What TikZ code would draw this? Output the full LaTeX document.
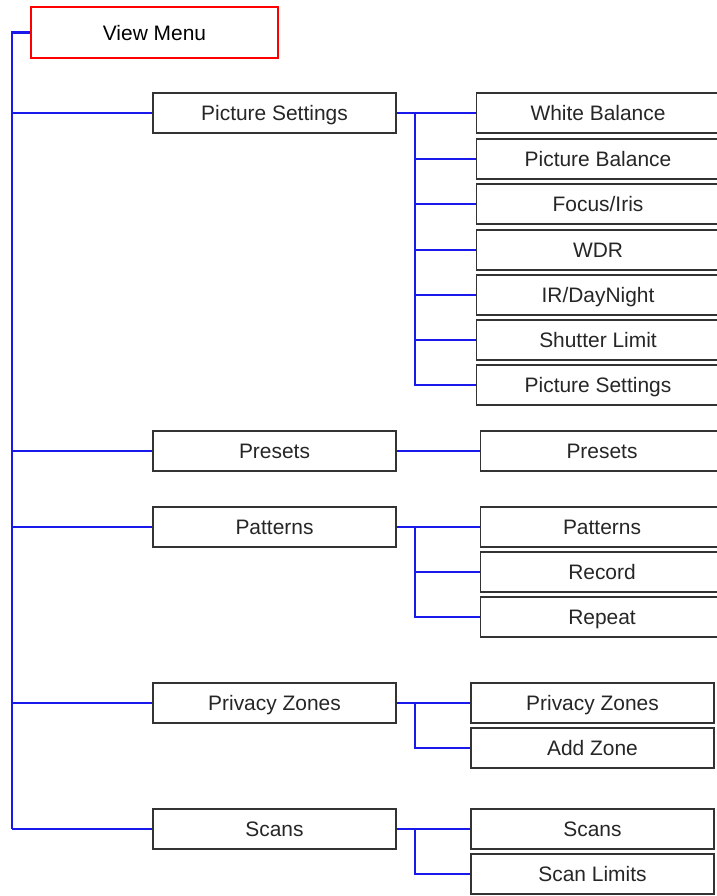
\documentclass[tikz,border=0pt]{standalone}
\usepackage{fontspec}
\setmainfont{Liberation Sans}
\definecolor{linkblue}{RGB}{25,25,235}
\tikzset{
  menubox/.style={draw=red,line width=1.1pt,fill=white,minimum width=185.25pt,
    minimum height=38.25pt,inner sep=0pt,text height=11.3pt,text depth=0pt,
    font=\fontsize{15.7}{18}\selectfont},
  itembox/.style={draw=black!80,line width=1.1pt,fill=white,minimum width=182.25pt,
    minimum height=30pt,inner sep=0pt,text height=11.3pt,text depth=0pt,
    text=black!85,font=\fontsize{15.7}{18}\selectfont},
  trunk/.style={linkblue,line width=1.9pt},
  branch/.style={linkblue,line width=1.15pt}
}
\begin{document}
\begin{tikzpicture}[x=0.75pt,y=-0.75pt]
  \useasboundingbox (0,0) rectangle (717,896);
  \clip (0,0) rectangle (717,896);
  % top level
  \node[menubox] (view) at (154.5,32.5) {View Menu};
  \node[itembox] (pict) at (274.5,113) {Picture Settings};
  \node[itembox] (pres) at (274.5,451) {Presets};
  \node[itembox] (patt) at (274.5,527) {Patterns};
  \node[itembox] (priv) at (274.5,703) {Privacy Zones};
  \node[itembox] (scan) at (274.5,829) {Scans};
  % sub menus
  \node[itembox] (white) at (598,113) {White Balance};
  \node[itembox] (pbal) at (598,159) {Picture Balance};
  \node[itembox] (focus) at (598,204) {Focus/Iris};
  \node[itembox] (wdr) at (598,250) {WDR};
  \node[itembox] (irdn) at (598,295) {IR/DayNight};
  \node[itembox] (shut) at (598,340) {Shutter Limit};
  \node[itembox] (pset) at (598,385) {Picture Settings};
  \node[itembox] (pres2) at (602,451) {Presets};
  \node[itembox] (patt2) at (602,527) {Patterns};
  \node[itembox] (rec) at (602,572) {Record};
  \node[itembox] (rep) at (602,617) {Repeat};
  \node[itembox] (priv2) at (592.5,703) {Privacy Zones};
  \node[itembox] (addz) at (592.5,748) {Add Zone};
  \node[itembox] (scan2) at (592.5,829) {Scans};
  \node[itembox] (lim) at (592.5,874) {Scan Limits};
  % trunk
  \coordinate (tend) at (12,829);
  \draw[trunk] (view.west) -| (tend);
  \draw[branch] (tend |- pict.west) -- (pict.west);
  \draw[branch] (tend |- pres.west) -- (pres.west);
  \draw[branch] (tend |- patt.west) -- (patt.west);
  \draw[branch] (tend |- priv.west) -- (priv.west);
  \draw[branch] (tend) -- (scan.west);
  % picture settings
  \coordinate (j1) at (415,113);
  \draw[branch] (pict.east) -- (white.west);
  \draw[branch] (j1) |- (pbal.west);
  \draw[branch] (j1) |- (focus.west);
  \draw[branch] (j1) |- (wdr.west);
  \draw[branch] (j1) |- (irdn.west);
  \draw[branch] (j1) |- (shut.west);
  \draw[branch] (j1) |- (pset.west);
  % presets
  \draw[branch] (pres.east) -- (pres2.west);
  % patterns
  \coordinate (j2) at (415,527);
  \draw[branch] (patt.east) -- (patt2.west);
  \draw[branch] (j2) |- (rec.west);
  \draw[branch] (j2) |- (rep.west);
  % privacy zones
  \coordinate (j3) at (415,703);
  \draw[branch] (priv.east) -- (priv2.west);
  \draw[branch] (j3) |- (addz.west);
  % scans
  \coordinate (j4) at (415,829);
  \draw[branch] (scan.east) -- (scan2.west);
  \draw[branch] (j4) |- (lim.west);
\end{tikzpicture}
\end{document}
